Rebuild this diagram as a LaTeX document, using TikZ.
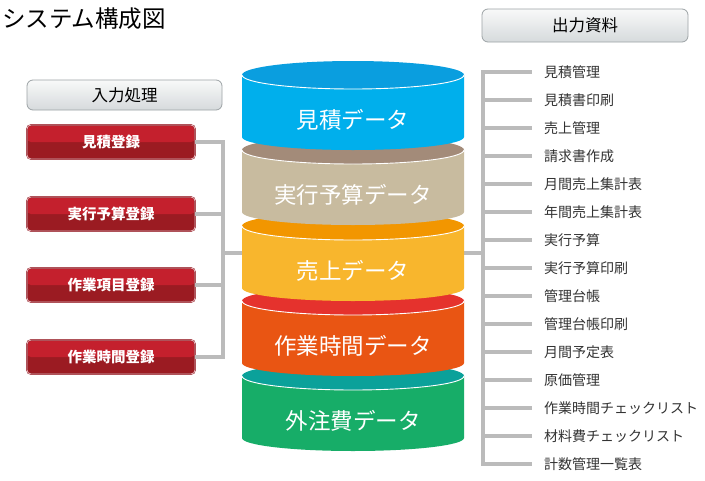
\documentclass[tikz,border=0pt]{standalone}
\usepackage{fontspec}
\setmainfont{Noto Sans CJK JP}
\definecolor{blueT}{HTML}{0A9EDF}
\definecolor{blueB}{HTML}{00AFEC}
\definecolor{brownT}{HTML}{A38B79}
\definecolor{brownB}{HTML}{C8BB9F}
\definecolor{orangeT}{HTML}{F29600}
\definecolor{orangeB}{HTML}{F8B62D}
\definecolor{redT}{HTML}{E5322D}
\definecolor{redB}{HTML}{E95513}
\definecolor{tealT}{HTML}{0BA19A}
\definecolor{greenB}{HTML}{17AD68}
\definecolor{boxTop}{HTML}{C4202D}
\definecolor{boxBot}{HTML}{9B1B22}
\definecolor{boxEdge}{HTML}{8C1520}
\definecolor{boxLine}{HTML}{F0C2C4}
\definecolor{connGray}{HTML}{BBBBBB}
\definecolor{hdrEdge}{HTML}{9DA3A6}
\definecolor{hdrTop}{HTML}{F8F9F9}
\definecolor{hdrBot}{HTML}{D6DADC}
\definecolor{itemText}{HTML}{333333}
\tikzset{
  conn/.style={draw=connGray, line width=4.5pt},
  cyltext/.style={text=white, font=\fontsize{22.5}{26}\selectfont, inner sep=0pt},
  redbox/.style={minimum width=168pt, minimum height=34pt, rounded corners=4pt, inner sep=0pt,
    fill=boxBot, draw=boxEdge, double=boxLine, double distance=0.8pt, line width=0.4pt,
    text=white, font=\fontsize{14.5}{17}\selectfont\bfseries,
    path picture={\fill[boxTop] (path picture bounding box.north west) rectangle (path picture bounding box.east);}},
  hdrbox/.style={rounded corners=6pt, draw=hdrEdge, line width=0.8pt, top color=hdrTop, bottom color=hdrBot,
    inner sep=0pt, font=\fontsize{16.5}{20}\selectfont, text=black},
  itemtext/.style={anchor=west, inner xsep=12pt, inner ysep=0pt, text=itemText, font=\fontsize{14}{16}\selectfont}
}
\newcommand\mycyl[5]{%
  \fill[#3] (242,#1) -- (242,#1+62) arc[start angle=180,end angle=0,x radius=111,y radius=13] -- (464,#1) -- cycle;
  \fill[#2] (353,#1) ellipse[x radius=111,y radius=14];
  \draw[white,line width=0.9pt] (242,#1) arc[start angle=180,end angle=0,x radius=111,y radius=14];
  \node[cyltext] (#5) at (353,#1+45) {#4};
}
\begin{document}
\begin{tikzpicture}[x=1pt,y=-1pt]
\path[use as bounding box, fill=white] (0,0) rectangle (705,480);
% title
\node[anchor=west, inner sep=0pt, font=\fontsize{23.5}{27}\selectfont] (title) at (2,19) {システム構成図};
% headers
\node[hdrbox, minimum width=195pt, minimum height=30pt] (hin) at (124.5,95) {入力処理};
\node[hdrbox, minimum width=206pt, minimum height=33pt] (hout) at (585,25.5) {出力資料};
% input boxes
\node[redbox] (r1) at (111,142) {見積登録};
\node[redbox] (r2) at (111,214) {実行予算登録};
\node[redbox] (r3) at (111,285) {作業項目登録};
\node[redbox] (r4) at (111,357) {作業時間登録};
% junctions
\coordinate (jL) at (223,253);
\coordinate (jR) at (483,253);
\coordinate (c3w) at (242,253);
\coordinate (c3e) at (464,253);
\foreach \i in {1,...,4} { \draw[conn] (r\i.east) -| (jL); }
\draw[conn] (jL) -- (c3w);
\draw[conn] (c3e) -- (jR);
% outputs
\foreach \t [count=\i from 0] in {見積管理,見積書印刷,売上管理,請求書作成,月間売上集計表,年間売上集計表,実行予算,実行予算印刷,管理台帳,管理台帳印刷,月間予定表,原価管理,作業時間チェックリスト,材料費チェックリスト,計数管理一覧表} {
  \node[itemtext] (o\i) at (532,72+28*\i) {\t};
  \draw[conn] (jR) |- (o\i.west);
}
% cylinders, bottom first
\mycyl{376}{tealT}{greenB}{外注費データ}{d5}
\mycyl{301}{redT}{redB}{作業時間データ}{d4}
\mycyl{226}{orangeT}{orangeB}{売上データ}{d3}
\mycyl{150}{brownT}{brownB}{実行予算データ}{d2}
\mycyl{75}{blueT}{blueB}{見積データ}{d1}
\end{tikzpicture}
\end{document}
